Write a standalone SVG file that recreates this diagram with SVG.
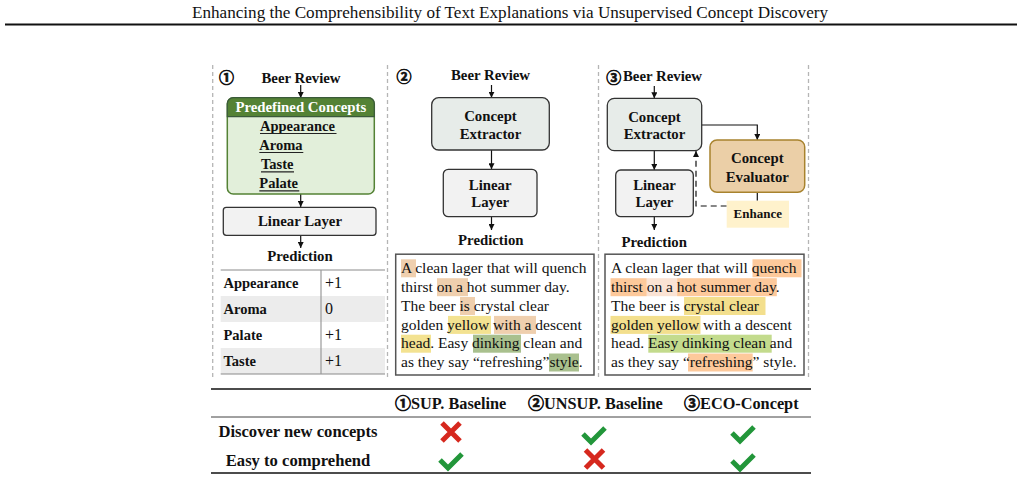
<svg xmlns="http://www.w3.org/2000/svg" width="1022" height="499" viewBox="0 0 1022 499">
<style>
.b{font-family:"Liberation Serif","Times New Roman",serif;font-weight:bold;font-size:14.8px;text-anchor:middle;fill:#111}
.bl{font-family:"Liberation Serif","Times New Roman",serif;font-weight:bold;font-size:14.5px;fill:#111}
.r{font-family:"Liberation Serif","Times New Roman",serif;font-size:15.5px;fill:#111}
.h{font-family:"Liberation Serif","Times New Roman",serif;font-weight:bold;font-size:16.3px;fill:#111}
.c{font-family:"Noto Sans CJK SC","DejaVu Sans",sans-serif;font-weight:bold;font-size:15px;fill:#111;stroke:#111;stroke-width:0.7}
.sep{stroke:#b5b5b5;stroke-width:1.3;stroke-dasharray:4 3;fill:none}
.ar{stroke:#111;stroke-width:1.2;fill:none;marker-end:url(#ah)}
.box{stroke:#333;stroke-width:1.3}
.ce{fill:#e7ece9}
.ll{fill:#f2f2f2}
.tb{fill:#fff;stroke:#555;stroke-width:1.5}
.o{fill:#efcfae}.y{fill:#f3e291}.g{fill:#a9c08e}
.o3{fill:#fdc99b}.p3{fill:#fbe3d4}.y3{fill:#f3df8d}.g3{fill:#c3db8d}
.x{stroke:#d6281e;stroke-width:5;fill:none}
.ck{stroke:#22963a;stroke-width:5;fill:none}
.ul{stroke:#222;stroke-width:1.2}
</style>
<defs>
<marker id="ah" viewBox="0 0 6 6" refX="6" refY="3" markerWidth="6" markerHeight="6" markerUnits="userSpaceOnUse" orient="auto">
<path d="M0,0 L6,3 L0,6 z" fill="#111"/>
</marker>
<g id="xm"><path class="x" d="M-9,-9 L9,9 M9,-9 L-9,9"/></g>
<g id="cm"><path class="ck" d="M-11,-1 L-3,7 L11,-7"/></g>
</defs>
<rect width="1022" height="499" fill="#fff"/>

<g id="header">
<text x="510" y="18" font-family="Liberation Serif, serif" font-size="16" text-anchor="middle" textLength="636" lengthAdjust="spacingAndGlyphs" fill="#111">Enhancing the Comprehensibility of Text Explanations via Unsupervised Concept Discovery</text>
<line x1="5" y1="24.5" x2="1017" y2="24.5" stroke="#111" stroke-width="2"/>
</g>

<g id="separators">
<line class="sep" x1="212.7" y1="65" x2="212.7" y2="380"/>
<line class="sep" x1="387.5" y1="65" x2="387.5" y2="380"/>
<line class="sep" x1="598.5" y1="65" x2="598.5" y2="380"/>
<line class="sep" x1="808.5" y1="65" x2="808.5" y2="380"/>
</g>

<g id="connectors">
<line class="ar" x1="300.7" y1="85" x2="300.7" y2="98"/>
<line class="ar" x1="300.7" y1="194" x2="300.7" y2="207"/>
<line class="ar" x1="300.7" y1="235.5" x2="300.7" y2="248"/>
<line class="ar" x1="491.5" y1="85" x2="491.5" y2="97.7"/>
<line class="ar" x1="491.5" y1="150" x2="491.5" y2="169.3"/>
<line class="ar" x1="491.5" y1="217" x2="491.5" y2="230"/>
<line class="ar" x1="654.3" y1="86" x2="654.3" y2="98.3"/>
<line class="ar" x1="654.3" y1="150.7" x2="654.3" y2="170"/>
<line class="ar" x1="654.3" y1="217" x2="654.3" y2="230"/>
<path class="ar" d="M701.7,125 H757.3 V140"/>
<line x1="757.3" y1="192.3" x2="757.3" y2="200.7" stroke="#111" stroke-width="1.2"/>
<path class="ar" d="M726.7,206 H696 V151" stroke-dasharray="6 4"/>
</g>

<g id="panel1">
<text class="c" x="226.5" y="83" text-anchor="middle">①</text>
<text class="b" x="301" y="83">Beer Review</text>
<g id="predefined">
<rect x="227.3" y="97.7" width="147" height="96.3" rx="6" fill="#e2efda" stroke="#548235" stroke-width="1.5"/>
<path d="M227.3,116.7 V103.7 a6,6 0 0 1 6,-6 H368.3 a6,6 0 0 1 6,6 V116.7 Z" fill="#548235" stroke="#3a5a3a" stroke-width="1.2"/>
<text class="b" x="300.8" y="112" style="fill:#fff">Predefined Concepts</text>
<text class="bl" x="260" y="131">Appearance</text>
<line class="ul" x1="260" y1="133.5" x2="336.5" y2="133.5"/>
<text class="bl" x="259.3" y="150">Aroma</text>
<line class="ul" x1="259.3" y1="152.5" x2="303.3" y2="152.5"/>
<text class="bl" x="261" y="169.3">Taste</text>
<line class="ul" x1="261" y1="171.8" x2="294" y2="171.8"/>
<text class="bl" x="259.3" y="188.3">Palate</text>
<line class="ul" x1="259.3" y1="190.8" x2="299.3" y2="190.8"/>
</g>
<g id="linear1">
<rect class="box ll" x="223.3" y="207.3" width="152.7" height="28" rx="3"/>
<text class="b" x="300" y="226">Linear Layer</text>
</g>
<text class="b" x="300" y="261">Prediction</text>
<g id="table1">
<rect x="220.7" y="296" width="164.3" height="26" fill="#ececec"/>
<rect x="220.7" y="348" width="164.3" height="26" fill="#ececec"/>
<line x1="220.7" y1="270" x2="385" y2="270" stroke="#8a8a8a" stroke-width="1"/>
<line x1="220.7" y1="374" x2="385" y2="374" stroke="#8a8a8a" stroke-width="1"/>
<line x1="321" y1="270" x2="321" y2="374" stroke="#999" stroke-width="1.2"/>
<text class="bl" x="223.5" y="288">Appearance</text>
<text class="bl" x="223.5" y="314">Aroma</text>
<text class="bl" x="223.5" y="340">Palate</text>
<text class="bl" x="223.5" y="366">Taste</text>
<text class="r" x="325" y="288" style="font-size:16px">+1</text>
<text class="r" x="325" y="314" style="font-size:16px">0</text>
<text class="r" x="325" y="340" style="font-size:16px">+1</text>
<text class="r" x="325" y="366" style="font-size:16px">+1</text>
</g>
</g>

<g id="panel2">
<text class="c" x="404" y="82" text-anchor="middle">②</text>
<text class="b" x="490.5" y="80">Beer Review</text>
<g id="extractor2">
<rect class="box ce" x="431.7" y="97.7" width="117.6" height="52.3" rx="7"/>
<text class="b" x="490.5" y="121">Concept</text>
<text class="b" x="490.5" y="139">Extractor</text>
</g>
<g id="linear2">
<rect class="box ll" x="443.3" y="169.3" width="93.7" height="47.4" rx="5"/>
<text class="b" x="490.2" y="190">Linear</text>
<text class="b" x="490.2" y="207">Layer</text>
</g>
<text class="b" x="490.8" y="245">Prediction</text>
<g id="text2">
<rect class="tb" x="395.7" y="254.2" width="198.3" height="120.8"/>
<rect class="o" x="401" y="259.3" width="15" height="18"/>
<rect class="o" x="437" y="278.2" width="31" height="18"/>
<rect class="o" x="460" y="297" width="15" height="18"/>
<rect class="y" x="448" y="315.9" width="43" height="18"/>
<rect class="o" x="494" y="315.9" width="42" height="18"/>
<rect class="y" x="401" y="334.7" width="30" height="18"/>
<rect class="g" x="473" y="334.7" width="48" height="18"/>
<rect class="g" x="549" y="353.5" width="30" height="18"/>
<text class="r" x="401" y="273">A clean lager that will quench</text>
<text class="r" x="401" y="291.8">thirst on a hot summer day.</text>
<text class="r" x="401" y="310.6">The beer is crystal clear</text>
<text class="r" x="401" y="329.5">golden yellow with a descent</text>
<text class="r" x="401" y="348.3">head. Easy dinking clean and</text>
<text class="r" x="401" y="367.1">as they say “refreshing”style.</text>
</g>
</g>

<g id="panel3">
<text class="c" x="613.7" y="82.5" text-anchor="middle">③</text>
<text class="b" x="662.5" y="80.7">Beer Review</text>
<g id="extractor3">
<rect class="box ce" x="607.3" y="98.3" width="94.4" height="52.4" rx="7"/>
<text class="b" x="654.5" y="121.7">Concept</text>
<text class="b" x="654.5" y="139">Extractor</text>
</g>
<g id="evaluator">
<rect x="710" y="140" width="94.7" height="52.3" rx="7" fill="#ebcfa7" stroke="#a8832e" stroke-width="1.5"/>
<text class="b" x="757.3" y="163.3">Concept</text>
<text class="b" x="757.3" y="181.7">Evaluator</text>
</g>
<g id="enhance">
<rect x="726.7" y="200.7" width="62.3" height="27" fill="#fff2cc"/>
<text class="b" x="757.8" y="218.3" style="font-size:13px">Enhance</text>
</g>
<g id="linear3">
<rect class="box ll" x="615.7" y="170" width="77.6" height="46.7" rx="5"/>
<text class="b" x="654.5" y="190">Linear</text>
<text class="b" x="654.5" y="207.3">Layer</text>
</g>
<text class="b" x="654.2" y="246.7">Prediction</text>
<g id="text3">
<rect class="tb" x="605" y="254.2" width="199" height="120.8"/>
<rect class="o3" x="752.5" y="259.3" width="49" height="18"/>
<rect class="o3" x="610.5" y="278.2" width="36.3" height="18"/>
<rect class="p3" x="646.8" y="278.2" width="30.3" height="18"/>
<rect class="o3" x="677.1" y="278.2" width="99.7" height="18"/>
<rect class="y3" x="684" y="297" width="81.5" height="18"/>
<rect class="y3" x="610.5" y="315.9" width="90" height="18"/>
<rect class="g3" x="648.3" y="334.7" width="123.4" height="18"/>
<rect class="o3" x="688" y="353.5" width="64.7" height="18"/>
<text class="r" x="611" y="273">A clean lager that will quench</text>
<text class="r" x="611" y="291.8">thirst on a hot summer day.</text>
<text class="r" x="611" y="310.6">The beer is crystal clear</text>
<text class="r" x="611" y="329.5">golden yellow with a descent</text>
<text class="r" x="611" y="348.3">head. Easy dinking clean and</text>
<text class="r" x="611" y="367.1">as they say “refreshing” style.</text>
</g>
</g>

<g id="comparison">
<line x1="211" y1="389" x2="811" y2="389" stroke="#111" stroke-width="1.5"/>
<line x1="211" y1="417" x2="811" y2="417" stroke="#111" stroke-width="0.8"/>
<line x1="211" y1="473" x2="811" y2="473" stroke="#111" stroke-width="1.5"/>
<text class="h" x="395" y="409"><tspan class="c" style="font-size:16px">①</tspan>SUP. Baseline</text>
<text class="h" x="528" y="409"><tspan class="c" style="font-size:16px">②</tspan>UNSUP. Baseline</text>
<text class="h" x="684" y="409"><tspan class="c" style="font-size:16px">③</tspan>ECO-Concept</text>
<text class="h" x="298" y="437" text-anchor="middle" style="font-size:16.6px">Discover new concepts</text>
<text class="h" x="298" y="466" text-anchor="middle" style="font-size:16.6px">Easy to comprehend</text>
<use href="#xm" x="451" y="432"/>
<use href="#cm" x="594" y="435"/>
<use href="#cm" x="743" y="434"/>
<use href="#cm" x="451" y="461"/>
<use href="#xm" x="594.5" y="459"/>
<use href="#cm" x="743" y="462"/>
</g>
</svg>
